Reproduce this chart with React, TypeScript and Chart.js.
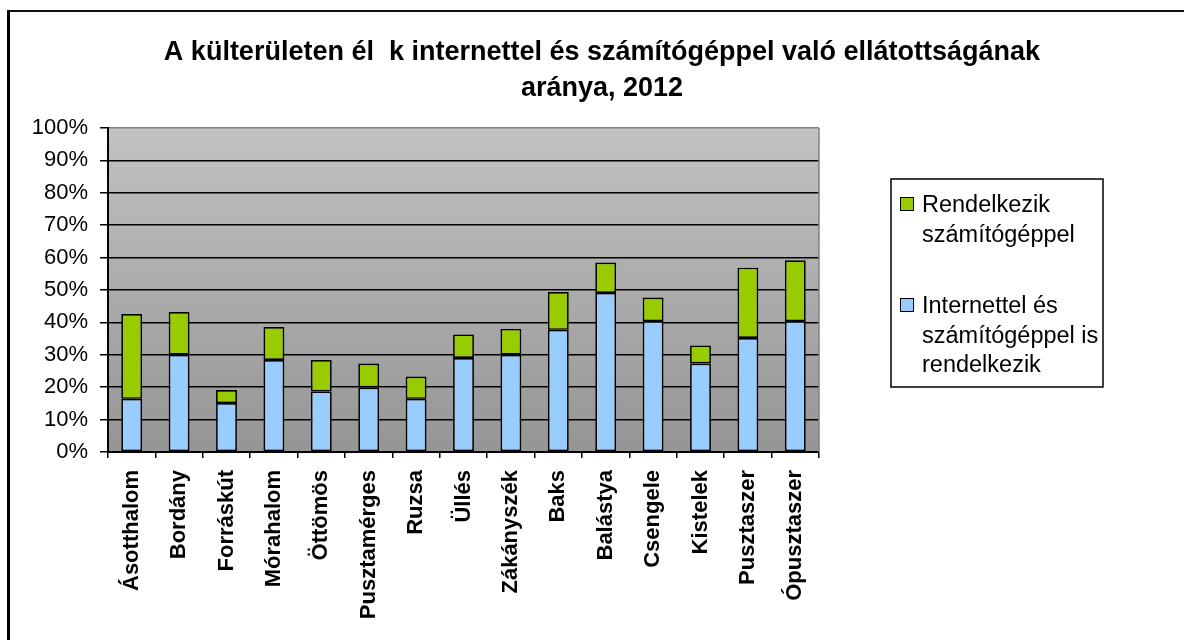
import React, { useEffect, useRef } from "react";
import { Chart, registerables } from "chart.js";

Chart.register(...registerables);

const FONT = "'Liberation Sans', Arial, Helvetica, sans-serif";

const titleLines = [
  "A külterületen él  k internettel és számítógéppel való ellátottságának",
  "aránya, 2012",
];

const categories = [
  "Ásotthalom",
  "Bordány",
  "Forráskút",
  "Mórahalom",
  "Öttömös",
  "Pusztamérges",
  "Ruzsa",
  "Üllés",
  "Zákányszék",
  "Baks",
  "Balástya",
  "Csengele",
  "Kistelek",
  "Pusztaszer",
  "Ópusztaszer",
];

// Internettel és számítógéppel is rendelkezik (%)
const internetAndComputer = [16.4, 30.0, 15.1, 28.4, 18.7, 19.9, 16.4, 29.0, 30.0, 37.7, 49.1, 40.4, 27.3, 35.2, 40.4];
// Rendelkezik számítógéppel (%)
const computerOnly = [26.2, 13.2, 4.0, 10.2, 9.7, 7.4, 6.9, 7.3, 8.0, 11.7, 9.4, 7.3, 5.6, 21.7, 18.8];

const seriesNames = ["Internettel és számítógéppel is rendelkezik", "Rendelkezik számítógéppel"];
const legendLines = [
  ["Internettel és", "számítógéppel is", "rendelkezik"],
  ["Rendelkezik", "számítógéppel"],
];
const seriesColors = ["#99ccff", "#99cc00"];

const yMin = 0;
const yMax = 100;
const yStep = 10;

const plotBackground = {
  id: "plotBackground",
  beforeDraw(chart: any) {
    const { ctx, chartArea: a } = chart;
    const g = ctx.createLinearGradient(0, a.top, 0, a.bottom);
    g.addColorStop(0, "#c2c2c2");
    g.addColorStop(1, "#959595");
    ctx.save();
    ctx.fillStyle = g;
    ctx.fillRect(a.left, a.top, a.right - a.left, a.bottom - a.top);
    ctx.restore();
  },
};

const decorations = {
  id: "decorations",
  afterDraw(chart: any) {
    const { ctx, chartArea: a } = chart;
    ctx.save();
    // right edge of plot area
    ctx.strokeStyle = "#808080";
    ctx.lineWidth = 1.5;
    ctx.beginPath();
    ctx.moveTo(a.right, a.top);
    ctx.lineTo(a.right, a.bottom);
    ctx.stroke();

    // title
    ctx.fillStyle = "#000";
    ctx.font = `bold 27px ${FONT}`;
    ctx.textAlign = "center";
    ctx.textBaseline = "alphabetic";
    const titleCenter = 602;
    titleLines.forEach((line, i) => {
      ctx.fillText(line, titleCenter, 60 + i * 36);
    });

    // legend
    const bx = 891, by = 179, bw = 212, bh = 208;
    ctx.strokeStyle = "#000";
    ctx.lineWidth = 1.5;
    ctx.strokeRect(bx, by, bw, bh);
    ctx.font = `23.5px ${FONT}`;
    ctx.textAlign = "left";
    const order = chart.data.datasets.map((_: any, i: number) => i).reverse();
    const firstBaselines = [212, 313];
    order.forEach((dsIndex: number, k: number) => {
      const ds = chart.data.datasets[dsIndex];
      const base = firstBaselines[k];
      ctx.fillStyle = ds.backgroundColor;
      ctx.fillRect(900, base - 15, 14, 14);
      ctx.lineWidth = 1;
      ctx.strokeStyle = "#000";
      ctx.strokeRect(900.5, base - 14.5, 13, 13);
      ctx.fillStyle = "#000";
      legendLines[dsIndex].forEach((t, j) => {
        ctx.fillText(t, 922, base + j * 29.7);
      });
    });
    ctx.restore();
  },
};

export default function App() {
  const ref = useRef<HTMLCanvasElement | null>(null);

  useEffect(() => {
    if (!ref.current) return;
    const chart = new Chart(ref.current, {
      type: "bar",
      data: {
        labels: categories,
        datasets: [
          {
            label: seriesNames[0],
            data: internetAndComputer,
            backgroundColor: seriesColors[0],
            borderColor: "#000",
            borderWidth: 1.7,
            borderSkipped: false,
          },
          {
            label: seriesNames[1],
            data: computerOnly,
            backgroundColor: seriesColors[1],
            borderColor: "#000",
            borderWidth: 1.7,
            borderSkipped: false,
          },
        ],
      },
      options: {
        responsive: false,
        maintainAspectRatio: false,
        animation: false,
        devicePixelRatio: 1,
        datasets: {
          bar: { categoryPercentage: 1, barPercentage: 0.44 },
        },
        layout: { padding: { top: 128, right: 365, bottom: 0, left: 0 } },
        plugins: {
          legend: { display: false },
          title: { display: false },
          tooltip: { enabled: false },
        },
        scales: {
          x: {
            stacked: true,
            grid: {
              offset: true,
              drawOnChartArea: false,
              drawTicks: true,
              tickLength: 6,
              color: "#000",
              lineWidth: 1.5,
            },
            border: { display: true, color: "#000", width: 2 },
            ticks: {
              autoSkip: false,
              minRotation: 90,
              maxRotation: 90,
              padding: 12,
              color: "#000",
              font: { family: FONT, size: 22, weight: "bold" },
            },
            afterFit(scale: any) {
              scale.height = 188;
            },
          },
          y: {
            stacked: true,
            min: yMin,
            max: yMax,
            ticks: {
              stepSize: yStep,
              padding: 12,
              color: "#000",
              font: { family: FONT, size: 22 },
              callback: (v: any) => `${v}%`,
            },
            grid: {
              color: (c: any) => (c.tick && c.tick.value === yMax ? "#808080" : "#000"),
              tickColor: "#000",
              lineWidth: 1.5,
              tickLength: 8,
              drawTicks: true,
            },
            border: { display: true, color: "#000", width: 2 },
            afterFit(scale: any) {
              scale.width = 108;
            },
          },
        },
      },
      plugins: [plotBackground, decorations],
    } as any);
    return () => chart.destroy();
  }, []);

  return (
    <div
      style={{
        position: "fixed",
        left: 0,
        top: 0,
        width: 1184,
        height: 640,
        overflow: "hidden",
        background: "#fff",
      }}
    >
      <div
        style={{
          position: "absolute",
          left: 7,
          top: 10,
          width: 1400,
          height: 900,
          borderTop: "2px solid #111",
          borderLeft: "3px solid #000",
        }}
      />
      <canvas
        ref={ref}
        width={1184}
        height={640}
        style={{ position: "absolute", left: 0, top: 0, width: 1184, height: 640, display: "block" }}
      />
    </div>
  );
}
